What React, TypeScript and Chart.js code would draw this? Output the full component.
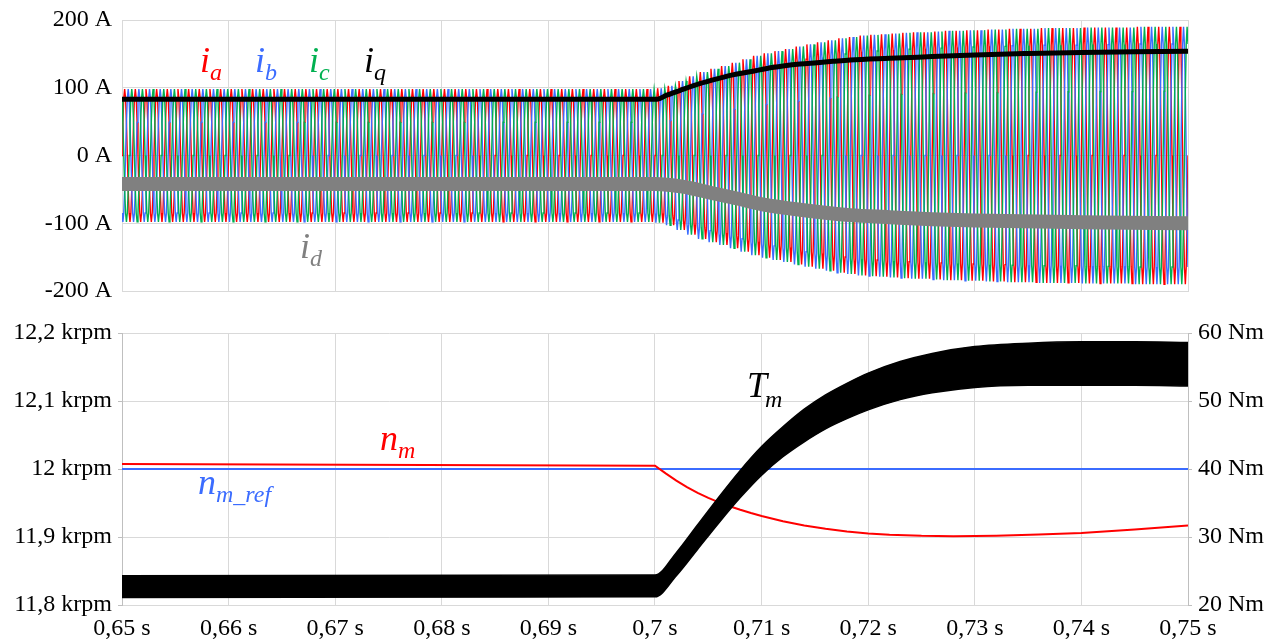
import React, { useEffect, useRef } from 'react';
import { Chart, registerables } from 'chart.js';

Chart.register(...registerables);

// ---------- axis ticks ----------
const timeTicks = [0.65, 0.66, 0.67, 0.68, 0.69, 0.7, 0.71, 0.72, 0.73, 0.74, 0.75];
const timeTickLabels = ['0,65 s', '0,66 s', '0,67 s', '0,68 s', '0,69 s', '0,7 s', '0,71 s', '0,72 s', '0,73 s', '0,74 s', '0,75 s'];
const currentTicks = [-200, -100, 0, 100, 200];
const currentTickLabels = ['-200 A', '-100 A', '0 A', '100 A', '200 A'];
const speedTicks = [11.8, 11.9, 12, 12.1, 12.2];
const speedTickLabels = ['11,8 krpm', '11,9 krpm', '12 krpm', '12,1 krpm', '12,2 krpm'];
const torqueTicks = [20, 30, 40, 50, 60];
const torqueTickLabels = ['20 Nm', '30 Nm', '40 Nm', '50 Nm', '60 Nm'];

// ---------- phase currents ia, ib, ic ----------
const phaseStart = 0.65; // s
const phasePeriod = 0.001; // s, one electrical cycle (counted from picture)
const cycleShape = [0, 0.5, 0.866, 1, 0.866, 0.5, 0, -0.5, -0.866, -1, -0.866, -0.5];
const phaseShiftSamples = [0, 4, 8]; // a, b, c (120 deg apart)
// peak amplitude of each electrical cycle (A), read from the envelope
const phaseAmplitude = [
  98, 98, 98, 98, 98, 98, 98, 98, 98, 98,
  98, 98, 98, 98, 98, 98, 98, 98, 98, 98,
  98, 98, 98, 98, 98, 98, 98, 98, 98, 98,
  98, 98, 98, 98, 98, 98, 98, 98, 98, 98,
  98, 98, 98, 98, 98, 98, 98, 98, 98, 98,
  99, 103, 110, 117, 123, 128, 132, 137, 142, 147,
  151, 154, 157, 161, 164, 167, 170, 173, 175, 177,
  178, 179, 180, 181, 182, 182, 183, 184, 184, 185,
  185, 186, 186, 187, 187, 187, 188, 188, 188, 188,
  189, 189, 189, 189, 189, 190, 190, 190, 190, 190,
];

// ---------- iq, id ----------
const iqTime = [0.65, 0.7, 0.7002, 0.7011, 0.7026, 0.7042, 0.7058, 0.7073, 0.7089, 0.7105, 0.712, 0.7136, 0.7152, 0.7167, 0.7183, 0.722, 0.726, 0.73, 0.735, 0.74, 0.745, 0.75];
const iqValue = [83, 83, 83, 89, 97.5, 106, 113, 119, 123.5, 128.5, 132, 135, 137, 139, 141, 143.5, 146, 148.5, 150.5, 152, 153, 154];
const idTime = [0.65, 0.7, 0.7026, 0.7052, 0.7077, 0.7101, 0.7136, 0.7183, 0.722, 0.726, 0.73, 0.74, 0.75];
const idValue = [-42, -42, -46, -55, -63.5, -72, -80, -88, -91, -94, -96, -98.5, -100];

// ---------- speed ----------
const speedTime = [0.65, 0.7, 0.701, 0.702, 0.703, 0.704, 0.705, 0.706, 0.707, 0.708, 0.709, 0.71, 0.712, 0.714, 0.716, 0.718, 0.72, 0.722, 0.725, 0.728, 0.732, 0.736, 0.74, 0.745, 0.75];
const speedValue = [12.0074, 12.0049, 11.9935, 11.983, 11.9735, 11.965, 11.9575, 11.951, 11.9452, 11.94, 11.9352, 11.9308, 11.9232, 11.917, 11.912, 11.908, 11.9052, 11.9033, 11.9017, 11.9012, 11.9018, 11.9035, 11.906, 11.9112, 11.917];
const speedRefTime = [0.65, 0.75];
const speedRefValue = [12.0, 12.0];

// ---------- torque band (ripple envelope) ----------
const torqueTime = [0.65, 0.7, 0.702, 0.704, 0.706, 0.708, 0.71, 0.712, 0.714, 0.716, 0.718, 0.72, 0.723, 0.726, 0.73, 0.735, 0.74, 0.745, 0.75];
const torqueUpper = [24.3, 24.4, 27.7, 31.8, 35.9, 39.8, 43.3, 46.2, 48.8, 50.9, 52.6, 54.1, 55.8, 57.0, 58.0, 58.5, 58.7, 58.7, 58.6];
const torqueLower = [21.1, 21.2, 24.3, 28.2, 32.1, 35.8, 39.1, 41.8, 44.0, 45.9, 47.4, 48.7, 50.2, 51.2, 52.0, 52.3, 52.3, 52.3, 52.2];

// ---------- series labels ----------
const topLabels = [
  { main: 'i', sub: 'a', color: '#ff0000', t: 0.65732, v: 123 },
  { main: 'i', sub: 'b', color: '#3b6cff', t: 0.66248, v: 123 },
  { main: 'i', sub: 'c', color: '#00b050', t: 0.66754, v: 123 },
  { main: 'i', sub: 'q', color: '#000000', t: 0.6727, v: 123 },
  { main: 'i', sub: 'd', color: '#808080', t: 0.6667, v: -151.7 },
];
const bottomLabels = [
  { main: 'T', sub: 'm', color: '#000000', t: 0.70863, v: 50.6 },
  { main: 'n', sub: 'm', color: '#ff0000', t: 0.6742, v: 42.8 },
  { main: 'n', sub: 'm_ref', color: '#3b6cff', t: 0.65713, v: 36.3 },
];

const FONT = '"Liberation Serif", "Times New Roman", serif';
const GRID = '#d9d9d9';

function zip(ts: number[], vs: number[]) {
  return ts.map((t, i) => ({ x: t, y: vs[i] }));
}

function buildPhase(shift: number) {
  const n = cycleShape.length;
  const pts: { x: number; y: number }[] = [];
  for (let k = 0; k < phaseAmplitude.length; k++) {
    for (let j = 0; j < n; j++) {
      pts.push({ x: phaseStart + (k + j / n) * phasePeriod, y: phaseAmplitude[k] * cycleShape[(j - shift + n) % n] });
    }
  }
  const last = phaseAmplitude[phaseAmplitude.length - 1];
  pts.push({ x: phaseStart + phaseAmplitude.length * phasePeriod, y: last * cycleShape[(n - shift) % n] });
  return pts;
}

function setTicks(values: number[]) {
  return (scale: any) => {
    scale.ticks = values.map((v) => ({ value: v }));
  };
}
function tickLabel(values: number[], labels: string[]) {
  return (v: any) => {
    const i = values.findIndex((x) => Math.abs(x - Number(v)) < 1e-6);
    return i >= 0 ? labels[i] : '';
  };
}
function fixWidth(w: number) {
  return (s: any) => {
    s.width = w;
    s.paddingTop = 0;
    s.paddingBottom = 0;
  };
}

function labelPlugin(items: any[], axis: string) {
  return {
    id: 'seriesLabels',
    afterDatasetsDraw(chart: any) {
      const ctx = chart.ctx;
      const xs = chart.scales.x;
      const ys = chart.scales[axis];
      items.forEach((it) => {
        const x = xs.getPixelForValue(it.t);
        const y = ys.getPixelForValue(it.v);
        ctx.save();
        ctx.fillStyle = it.color;
        ctx.textAlign = 'left';
        ctx.textBaseline = 'alphabetic';
        ctx.font = `italic 36px ${FONT}`;
        ctx.fillText(it.main, x, y);
        const w = ctx.measureText(it.main).width;
        ctx.font = `italic 24px ${FONT}`;
        ctx.fillText(it.sub, x + w - (it.main === 'T' ? 2 : 0), y + (it.main === 'T' ? 10 : 8));
        ctx.restore();
      });
    },
  };
}

export default function App() {
  const topRef = useRef<HTMLCanvasElement>(null);
  const botRef = useRef<HTMLCanvasElement>(null);

  useEffect(() => {
    Chart.defaults.font.family = FONT;
    Chart.defaults.color = '#000';

    const phaseColors = ['#ff0000', '#3b6cff', '#00b050'];
    const top = new Chart(topRef.current as HTMLCanvasElement, {
      type: 'line',
      data: {
        datasets: [
          { data: zip(iqTime, iqValue), borderColor: '#000', borderWidth: 5, pointRadius: 0, cubicInterpolationMode: 'monotone', order: 0, clip: 0 } as any,
          { data: zip(idTime, idValue), borderColor: '#808080', borderWidth: 14, pointRadius: 0, cubicInterpolationMode: 'monotone', order: 1, clip: 0 } as any,
          ...phaseShiftSamples.map((s, i) => ({
            data: buildPhase(s),
            borderColor: phaseColors[i],
            borderWidth: 1.4,
            pointRadius: 0,
            order: 4 - i,
            clip: 0,
          })),
        ],
      },
      options: {
        animation: false,
        responsive: false,
        parsing: false,
        normalized: true,
        events: [],
        layout: { padding: { left: 0, right: 94, top: 20, bottom: 19 } },
        plugins: { legend: { display: false }, tooltip: { enabled: false } },
        scales: {
          x: {
            type: 'linear',
            min: 0.65,
            max: 0.75,
            afterBuildTicks: setTicks(timeTicks),
            ticks: { display: false },
            grid: { color: GRID, drawTicks: false },
            border: { color: GRID },
            afterFit: (s: any) => { s.height = 0; s.paddingLeft = 0; s.paddingRight = 0; },
          },
          y: {
            type: 'linear',
            min: -200,
            max: 200,
            afterBuildTicks: setTicks(currentTicks),
            ticks: { callback: tickLabel(currentTicks, currentTickLabels), padding: 10, font: { size: 24, family: FONT }, color: '#000' },
            grid: { color: GRID, drawTicks: false },
            border: { color: GRID },
            afterFit: fixWidth(122),
          },
        },
      } as any,
      plugins: [labelPlugin(topLabels, 'y')],
    } as any);

    const bottom = new Chart(botRef.current as HTMLCanvasElement, {
      type: 'line',
      data: {
        datasets: [
          { data: zip(torqueTime, torqueUpper), yAxisID: 'yT', borderColor: '#000', borderWidth: 1.5, pointRadius: 0, cubicInterpolationMode: 'monotone', fill: false, order: 0, clip: 0 } as any,
          { data: zip(torqueTime, torqueLower), yAxisID: 'yT', borderColor: '#000', borderWidth: 1.5, pointRadius: 0, cubicInterpolationMode: 'monotone', fill: '-1', backgroundColor: '#000', order: 0, clip: 0 } as any,
          { data: zip(speedTime, speedValue), yAxisID: 'yS', borderColor: '#ff0000', borderWidth: 2, pointRadius: 0, order: 1, clip: 0 } as any,
          { data: zip(speedRefTime, speedRefValue), yAxisID: 'yS', borderColor: '#3b6cff', borderWidth: 2, pointRadius: 0, order: 2, clip: 0 } as any,
        ],
      },
      options: {
        animation: false,
        responsive: false,
        parsing: false,
        events: [],
        layout: { padding: { left: 0, right: 0, top: 33, bottom: 0 } },
        plugins: { legend: { display: false }, tooltip: { enabled: false } },
        scales: {
          x: {
            type: 'linear',
            min: 0.65,
            max: 0.75,
            afterBuildTicks: setTicks(timeTicks),
            ticks: { callback: tickLabel(timeTicks, timeTickLabels), padding: 9, autoSkip: false, maxRotation: 0, font: { size: 24, family: FONT }, color: '#000' },
            grid: { color: GRID, drawTicks: false },
            border: { color: GRID },
            afterFit: (s: any) => { s.height = 37; s.paddingLeft = 0; s.paddingRight = 0; },
          },
          yS: {
            type: 'linear',
            position: 'left',
            min: 11.8,
            max: 12.2,
            afterBuildTicks: setTicks(speedTicks),
            ticks: { callback: tickLabel(speedTicks, speedTickLabels), padding: 6, font: { size: 24, family: FONT }, color: '#000' },
            grid: { color: GRID, drawTicks: true, tickLength: 4, tickColor: '#bfbfbf' },
            border: { color: '#bfbfbf' },
            afterFit: fixWidth(122),
          },
          yT: {
            type: 'linear',
            position: 'right',
            min: 20,
            max: 60,
            afterBuildTicks: setTicks(torqueTicks),
            ticks: { callback: tickLabel(torqueTicks, torqueTickLabels), padding: 6, font: { size: 24, family: FONT }, color: '#000' },
            grid: { drawOnChartArea: false, drawTicks: true, tickLength: 4, tickColor: '#bfbfbf' },
            border: { color: '#bfbfbf' },
            afterFit: fixWidth(94),
          },
        },
      } as any,
      plugins: [labelPlugin(bottomLabels, 'yT')],
    } as any);

    return () => {
      top.destroy();
      bottom.destroy();
    };
  }, []);

  return (
    <div style={{ position: 'absolute', left: 0, top: 0, width: 1282, height: 642, background: '#fff', overflow: 'hidden' }}>
      <canvas ref={topRef} width={1282} height={310} style={{ position: 'absolute', left: 0, top: 0 }} />
      <canvas ref={botRef} width={1282} height={342} style={{ position: 'absolute', left: 0, top: 300 }} />
    </div>
  );
}
